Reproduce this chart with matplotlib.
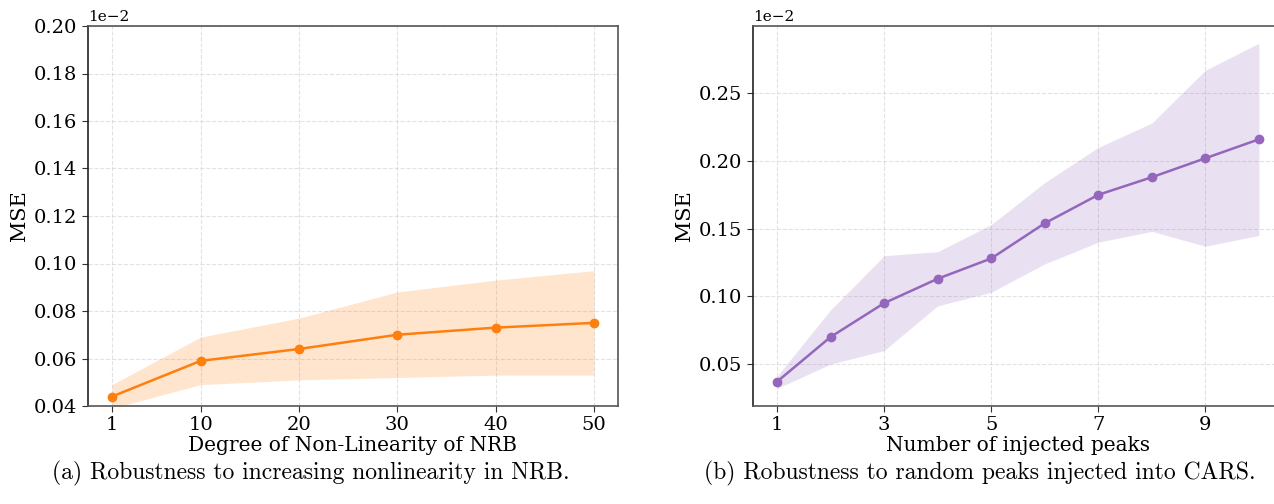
import matplotlib
matplotlib.use("Agg")
import matplotlib.pyplot as plt
import numpy as np

# ---- data (values in units of 1e-2) ----
nrb_degree = [1, 10, 20, 30, 40, 50]
nrb_mse = [0.044, 0.059, 0.064, 0.070, 0.073, 0.075]
nrb_upper = [0.049, 0.069, 0.077, 0.088, 0.093, 0.097]
nrb_lower = [0.039, 0.049, 0.051, 0.052, 0.053, 0.053]

peaks = [1, 2, 3, 4, 5, 6, 7, 8, 9, 10]
peaks_mse = [0.037, 0.070, 0.095, 0.113, 0.128, 0.154, 0.175, 0.188, 0.202, 0.216]
peaks_upper = [0.041, 0.090, 0.130, 0.133, 0.153, 0.184, 0.210, 0.228, 0.267, 0.287]
peaks_lower = [0.032, 0.050, 0.060, 0.093, 0.103, 0.124, 0.140, 0.148, 0.137, 0.145]

nrb_xticks = [1, 10, 20, 30, 40, 50]
peaks_xticks = [1, 3, 5, 7, 9]
nrb_yticks = [0.04, 0.06, 0.08, 0.10, 0.12, 0.14, 0.16, 0.18, 0.20]
peaks_yticks = [0.05, 0.10, 0.15, 0.20, 0.25]

scale = 1e-2

plt.rcParams['font.family'] = ['DejaVu Serif']

fig = plt.figure(figsize=(12.74, 5.04), dpi=100)
W, H = 1274, 504

def add_axes(l, r, t, b):
    return fig.add_axes([l / W, 1 - b / H, (r - l) / W, (b - t) / H])

ax1 = add_axes(88, 618, 26, 406)
ax2 = add_axes(753, 1283, 26, 406)

def style(ax):
    ax.grid(True, linestyle='--', color='#d0d0d0', alpha=0.6, linewidth=0.8)
    ax.set_axisbelow(True)
    for s in ax.spines.values():
        s.set_color('#555555')
        s.set_linewidth(1.2)
    ax.spines['left'].set_color('#222222')
    ax.tick_params(labelsize=14, length=4, color='#333333')
    ax.yaxis.set_major_formatter(
        matplotlib.ticker.FuncFormatter(lambda v, p: f'{v/scale:.2f}'))
    ax.text(0.0, 1.004, '1e\u22122', transform=ax.transAxes, fontsize=11,
            ha='left', va='bottom')

# Left panel
x1 = np.array(nrb_degree)
ax1.fill_between(x1, np.array(nrb_lower) * scale, np.array(nrb_upper) * scale,
                 color='#ff7f0e', alpha=0.2, linewidth=0)
ax1.plot(x1, np.array(nrb_mse) * scale, color='#ff7f0e', marker='o',
         markersize=6, linewidth=1.8)
ax1.set_xticks(nrb_xticks)
ax1.set_yticks(np.array(nrb_yticks) * scale)
ax1.set_ylim(0.04 * scale, 0.20 * scale)
ax1.set_xlim(-1.45, 52.45)
ax1.set_xlabel('Degree of Non-Linearity of NRB', fontsize=14.5, labelpad=1)
ax1.set_ylabel('MSE', fontsize=15)
style(ax1)

# Right panel
x2 = np.array(peaks)
ax2.fill_between(x2, np.array(peaks_lower) * scale, np.array(peaks_upper) * scale,
                 color='#9467bd', alpha=0.2, linewidth=0)
ax2.plot(x2, np.array(peaks_mse) * scale, color='#9467bd', marker='o',
         markersize=6, linewidth=1.8)
ax2.set_xticks(peaks_xticks)
ax2.set_yticks(np.array(peaks_yticks) * scale)
ax2.set_xlim(0.55, 10.45)
ax2.set_ylim(0.019 * scale, 0.2997 * scale)
ax2.set_xlabel('Number of injected peaks', fontsize=14.5, labelpad=1)
ax2.set_ylabel('MSE', fontsize=15)
style(ax2)
ax2.spines['right'].set_visible(False)

fig.text(311 / W, 1 - 473 / H, '(a) Robustness to increasing nonlinearity in NRB.',
         fontsize=17, family='cmr10', ha='center', va='center')
fig.text(980 / W, 1 - 473 / H, '(b) Robustness to random peaks injected into CARS.',
         fontsize=17, family='cmr10', ha='center', va='center')

fig.savefig('out.png', dpi=100)
